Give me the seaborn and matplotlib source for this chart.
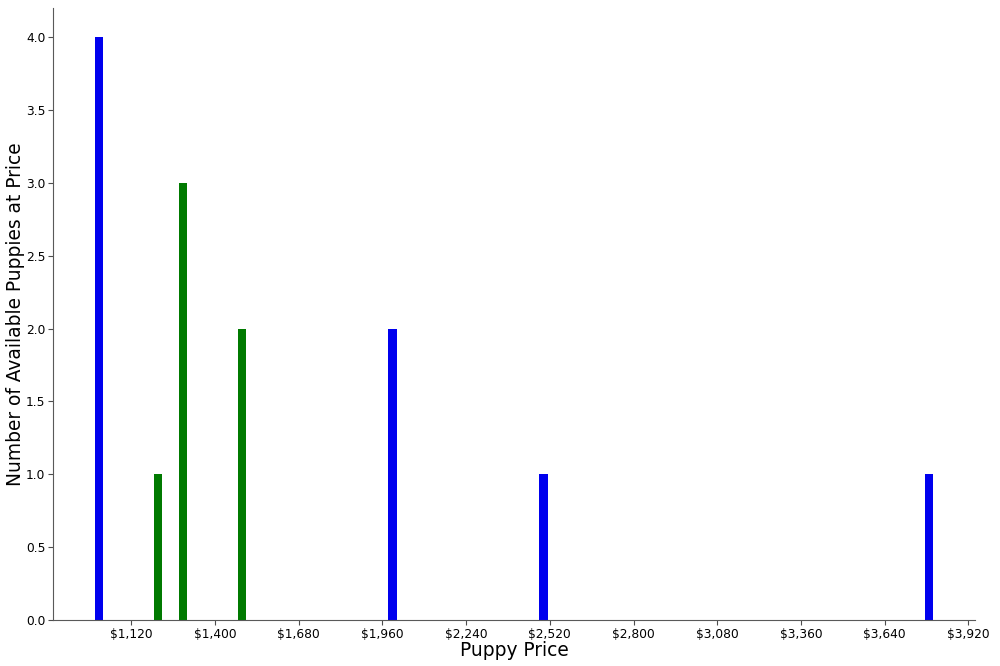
import numpy as np
import pandas as pd
import matplotlib
matplotlib.use("Agg")
import matplotlib.pyplot as plt
import matplotlib.ticker as mticker
import seaborn as sns

# prices of listed puppies and how many are available at each price
prices = [1012, 1209, 1293, 1490, 1994, 2499, 3788]
counts = [4, 1, 3, 2, 2, 1, 1]
groups = ["blue", "green", "green", "green", "blue", "blue", "blue"]
price_ticks = list(range(1120, 3921, 280))

df = pd.DataFrame({"price": prices, "count": counts, "group": groups})

sns.set_style("ticks")
plt.rcParams["font.family"] = ["DejaVu Sans"]
plt.rcParams["text.color"] = "black"
plt.rcParams["axes.labelcolor"] = "black"
plt.rcParams["xtick.color"] = "black"
plt.rcParams["ytick.color"] = "black"

fig, ax = plt.subplots(figsize=(10, 6.66), dpi=100)

bar_w = 28  # in price units
min_gap = np.diff(sorted(prices)).min()
sns.barplot(data=df, x="price", y="count", hue="group", native_scale=True,
            palette={"blue": "#0000ee", "green": "#007a00"}, dodge=False,
            width=bar_w / min_gap, errorbar=None, legend=False, ax=ax,
            saturation=1, linewidth=0)

ax.margins(x=0.05)
ax.set_xticks(price_ticks)
ax.xaxis.set_major_formatter(mticker.StrMethodFormatter("${x:,.0f}"))
ax.set_yticks(np.arange(0, 4.01, 0.5))
ax.yaxis.set_major_formatter(mticker.FormatStrFormatter("%.1f"))
ax.set_ylim(0, 4.2)
ax.tick_params(labelsize=8.8, color=".3", length=3.5, pad=2)
for s in ["left", "bottom"]:
    ax.spines[s].set_color(".35")
sns.despine(ax=ax)

ax.set_xlabel("Puppy Price", fontsize=13.4, labelpad=0)
ax.set_ylabel("Number of Available Puppies at Price", fontsize=13.4, labelpad=0.8)

plt.subplots_adjust(left=0.053, right=0.975, top=0.988, bottom=0.069)
fig.savefig("out.png", dpi=100)
